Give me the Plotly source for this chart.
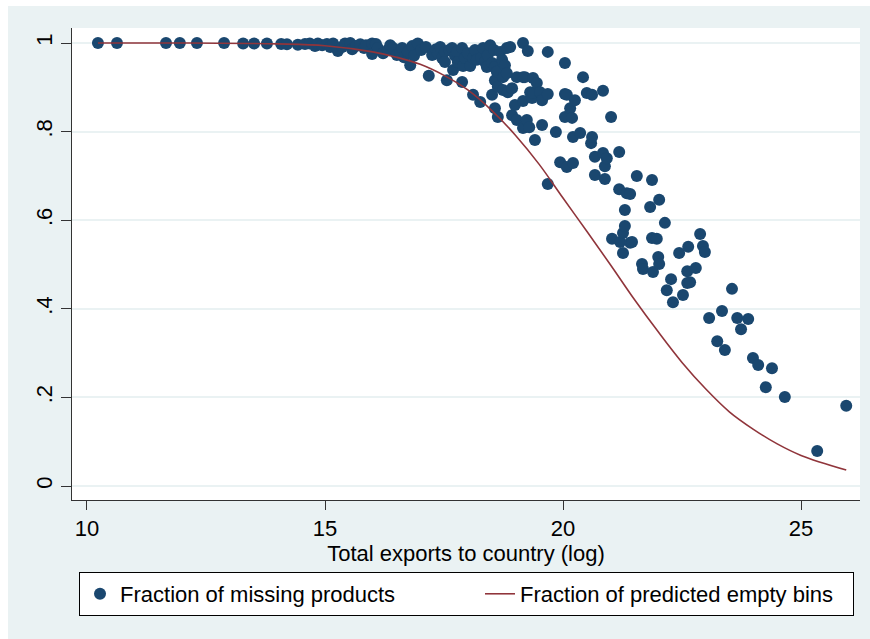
import plotly.graph_objects as go

# Fraction of missing products (scatter)
exports_log = [
    10.23, 10.63, 11.66, 11.95, 12.31, 12.88, 13.28, 13.51, 13.78, 14.08,
    14.20, 14.43, 14.58, 14.68, 14.79, 14.85, 14.94, 15.04, 15.11, 15.17,
    15.27, 15.36, 15.42, 15.53, 15.57, 15.65, 15.74, 15.82, 15.86, 15.99,
    15.99, 16.07, 16.11, 16.22, 16.32, 16.37, 16.43, 16.51, 16.58, 16.62,
    16.66, 16.74, 16.79, 16.83, 16.87, 16.95, 17.02, 17.12, 17.18, 17.25,
    17.33, 17.37, 17.42, 17.46, 17.52, 17.52, 17.56, 17.61, 17.67, 17.69,
    17.73, 17.77, 17.79, 17.88, 17.88, 17.90, 17.94, 18.00, 18.05, 18.11,
    18.11, 18.15, 18.19, 18.26, 18.28, 18.32, 18.36, 18.40, 18.42, 18.47,
    18.51, 18.51, 18.55, 18.57, 18.57, 18.57, 18.61, 18.63, 18.63, 18.68,
    18.72, 18.74, 18.74, 18.78, 18.82, 18.82, 18.84, 18.89, 18.93, 18.93,
    18.99, 19.03, 19.03, 19.16, 19.16, 19.16, 19.16, 19.20, 19.24, 19.26,
    19.29, 19.31, 19.35, 19.37, 19.37, 19.41, 19.45, 19.52, 19.56, 19.56,
    19.68, 19.68, 19.68, 19.85, 19.94, 20.04, 20.04, 20.04, 20.08, 20.08,
    20.15, 20.19, 20.21, 20.21, 20.25, 20.36, 20.42, 20.50, 20.59, 20.61,
    20.61, 20.67, 20.67, 20.84, 20.84, 20.88, 20.88, 20.92, 21.01, 21.03,
    21.18, 21.18, 21.20, 21.26, 21.26, 21.30, 21.30, 21.34, 21.41, 21.41,
    21.45, 21.55, 21.66, 21.68, 21.83, 21.87, 21.87, 21.89, 21.97, 22.00,
    22.02, 22.02, 22.14, 22.18, 22.27, 22.31, 22.44, 22.52, 22.61, 22.61,
    22.63, 22.67, 22.79, 22.88, 22.94, 22.98, 23.07, 23.24, 23.34, 23.40,
    23.55, 23.66, 23.74, 23.89, 23.99, 24.10, 24.26, 24.39, 24.66, 25.34,
    25.95,
]
missing_frac = [
    1.000, 1.000, 1.000, 1.000, 1.000, 1.000, 0.999, 0.999, 0.999, 0.998,
    0.997, 0.996, 0.998, 0.999, 0.993, 0.999, 0.995, 0.998, 0.991, 0.999,
    0.982, 0.991, 0.999, 1.000, 0.986, 0.993, 0.997, 0.989, 0.995, 0.999,
    0.975, 0.998, 0.989, 0.977, 0.984, 0.995, 0.989, 0.973, 0.980, 0.989,
    0.968, 0.980, 0.950, 0.993, 0.971, 0.999, 0.984, 0.991, 0.926, 0.973,
    0.986, 0.977, 0.991, 0.966, 0.980, 0.957, 0.916, 0.984, 0.989, 0.939,
    0.971, 0.980, 0.957, 0.989, 0.912, 0.948, 0.966, 0.977, 0.948, 0.966,
    0.883, 0.984, 0.962, 0.867, 0.966, 0.989, 0.957, 0.946, 0.973, 0.995,
    0.955, 0.883, 0.984, 0.946, 0.916, 0.853, 0.935, 0.901, 0.833, 0.980,
    0.962, 0.923, 0.894, 0.950, 0.989, 0.932, 0.889, 0.991, 0.898, 0.837,
    0.860, 0.923, 0.826, 1.000, 0.923, 0.869, 0.808, 0.923, 0.826, 0.982,
    0.810, 0.889, 0.876, 0.921, 0.887, 0.781, 0.910, 0.889, 0.871, 0.815,
    0.980, 0.885, 0.682, 0.799, 0.731, 0.955, 0.885, 0.833, 0.883, 0.720,
    0.853, 0.831, 0.788, 0.729, 0.871, 0.797, 0.923, 0.887, 0.774, 0.883,
    0.788, 0.743, 0.702, 0.892, 0.752, 0.722, 0.693, 0.740, 0.833, 0.558,
    0.754, 0.670, 0.551, 0.571, 0.526, 0.623, 0.587, 0.661, 0.659, 0.549,
    0.551, 0.700, 0.501, 0.490, 0.630, 0.691, 0.560, 0.483, 0.558, 0.517,
    0.646, 0.501, 0.594, 0.442, 0.467, 0.415, 0.526, 0.431, 0.485, 0.458,
    0.540, 0.460, 0.492, 0.569, 0.542, 0.528, 0.379, 0.327, 0.395, 0.307,
    0.445, 0.379, 0.354, 0.377, 0.289, 0.273, 0.223, 0.266, 0.201, 0.079,
    0.181,
]

# Fraction of predicted empty bins (line)
pred_x = [10.23, 12.0, 14.0, 15.0, 16.0, 16.5, 17.0, 17.5, 18.0, 18.5,
          19.0, 19.5, 20.0, 20.5, 21.0, 21.5, 22.0, 22.5, 23.0, 23.5,
          24.0, 24.5, 25.0, 25.95]
pred_y = [1.000, 1.000, 0.998, 0.994, 0.980, 0.968, 0.952, 0.927, 0.894, 0.848,
          0.792, 0.726, 0.650, 0.575, 0.499, 0.421, 0.348, 0.279, 0.219, 0.167,
          0.128, 0.095, 0.069, 0.036]

y_tickvals = [0, 0.2, 0.4, 0.6, 0.8, 1]
y_ticktext = ["0", ".2", ".4", ".6", ".8", "1"]
x_tickvals = [10, 15, 20, 25]

BG = "#EAF2F3"
NAVY = "#1A476F"
MAROON = "#90353B"
FONT = "Liberation Sans, Arial, sans-serif"
FS = 22

fig = go.Figure()
fig.add_trace(go.Scatter(
    x=exports_log, y=missing_frac, mode="markers",
    name="Fraction of missing products", legendwidth=355,
    marker=dict(color=NAVY, size=12, line=dict(width=0)),
))
fig.add_trace(go.Scatter(
    x=pred_x, y=pred_y, mode="lines", line_shape="spline",
    name="Fraction of predicted empty bins", legendwidth=328,
    line=dict(color=MAROON, width=1.6),
))

fig.update_layout(
    width=870, height=639,
    margin=dict(l=72, r=10, t=28, b=139, autoexpand=False),
    paper_bgcolor=BG, plot_bgcolor="white",
    font=dict(family=FONT, size=FS, color="black"),
    showlegend=True,
    legend=dict(
        orientation="h", x=0.0089, y=-0.1525, xanchor="left", yanchor="top",
        bgcolor="white", bordercolor="black", borderwidth=1,
        font=dict(size=FS), entrywidthmode="pixels",
    ),
    xaxis=dict(
        range=[9.685, 26.239], tickvals=x_tickvals,
        showgrid=False, zeroline=False,
        showline=True, linecolor="#333333", linewidth=1,
        ticks="outside", ticklen=9, tickcolor="#333333",
        title=dict(text="Total exports to country (log)", standoff=0,
                   font=dict(size=FS)),
        tickfont=dict(size=FS),
    ),
    yaxis=dict(
        range=[-0.0316, 1.0339], tickvals=y_tickvals, ticktext=y_ticktext,
        showgrid=True, gridcolor=BG, gridwidth=2, zeroline=False,
        showline=True, linecolor="#333333", linewidth=1,
        ticks="outside", ticklen=10, tickcolor="#333333",
        tickangle=-90, tickfont=dict(size=FS),
    ),
    shapes=[
        dict(type="rect", xref="paper", yref="paper",
             x0=-0.12, x1=-0.0812, y0=-0.4, y1=1.2,
             fillcolor="white", line=dict(width=0), layer="below"),
        dict(type="rect", xref="paper", yref="paper",
             x0=-0.12, x1=1.05, y0=1.0466, y1=1.2,
             fillcolor="white", line=dict(width=0), layer="below"),
    ],
)

fig.write_html("out.html")
